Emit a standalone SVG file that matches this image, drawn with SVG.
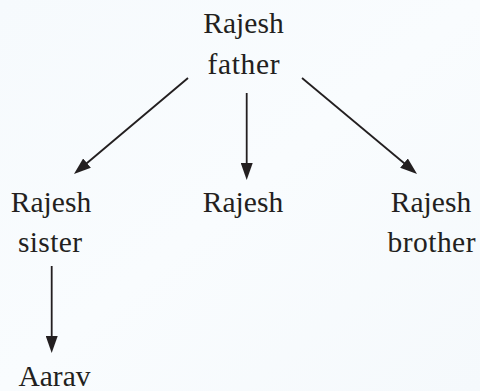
<svg xmlns="http://www.w3.org/2000/svg" width="480" height="391" viewBox="0 0 480 391">
  <defs>
    <linearGradient id="bg" x1="0" y1="0" x2="1" y2="1">
      <stop offset="0" stop-color="#f6fafd"/>
      <stop offset="0.5" stop-color="#f9fcfe"/>
      <stop offset="1" stop-color="#f5f9fc"/>
    </linearGradient>
    <marker id="ah" markerUnits="userSpaceOnUse" markerWidth="17" markerHeight="12" refX="3" refY="6" orient="auto">
      <path d="M0,0 L17,6 L0,12 z" fill="#231f20"/>
    </marker>
  </defs>
  <style>
    .lbl { font-family: "Liberation Serif", "DejaVu Serif", serif; font-size: 29.5px; fill: #231f20; text-anchor: middle; }
    .edge { stroke: #231f20; stroke-width: 1.8; fill: none; marker-end: url(#ah); }
  </style>
  <rect width="480" height="391" fill="url(#bg)"/>
  <g id="connectors">
    <line class="edge" x1="188" y1="78" x2="84.7" y2="165"/>
    <line class="edge" x1="246.7" y1="93" x2="246.7" y2="166"/>
    <line class="edge" x1="302" y1="78" x2="406.3" y2="165"/>
    <line class="edge" x1="51.7" y1="266" x2="51.7" y2="339"/>
  </g>
  <g id="node-father">
    <text class="lbl" x="243.5" y="33">Rajesh</text>
    <text class="lbl" x="243.5" y="74" textLength="72" lengthAdjust="spacing">father</text>
  </g>
  <g id="node-sister">
    <text class="lbl" x="51" y="212">Rajesh</text>
    <text class="lbl" x="50" y="252" textLength="64" lengthAdjust="spacing">sister</text>
  </g>
  <g id="node-rajesh">
    <text class="lbl" x="243" y="212">Rajesh</text>
  </g>
  <g id="node-brother">
    <text class="lbl" x="431" y="212">Rajesh</text>
    <text class="lbl" x="431.5" y="252" textLength="88" lengthAdjust="spacing">brother</text>
  </g>
  <g id="node-aarav">
    <text class="lbl" x="54.5" y="386">Aarav</text>
  </g>
</svg>
